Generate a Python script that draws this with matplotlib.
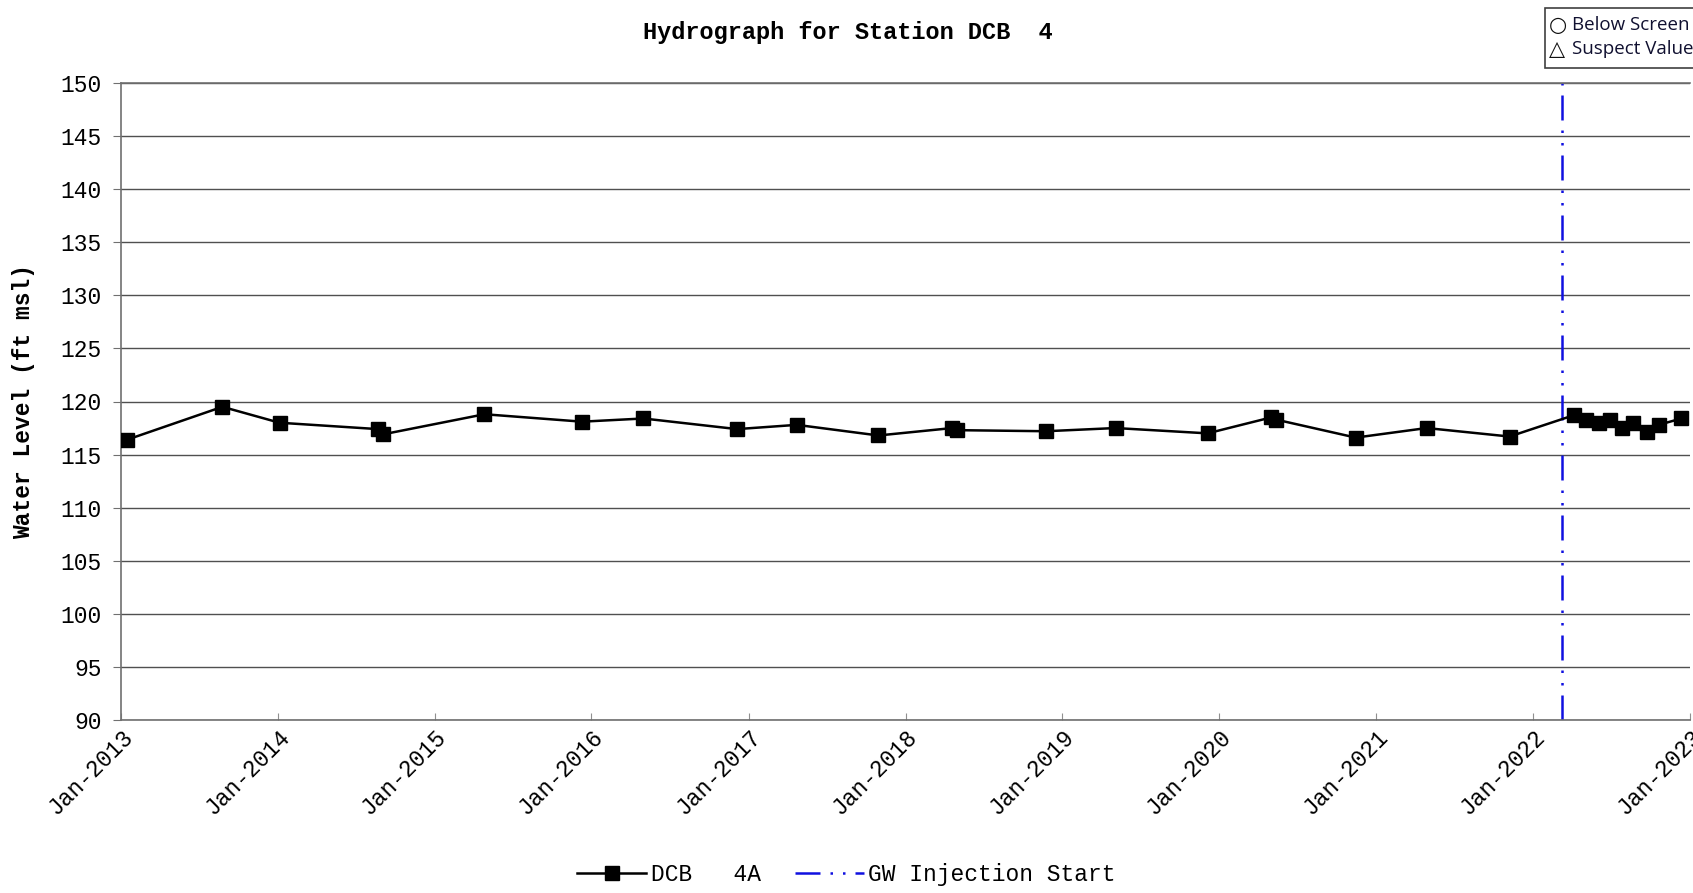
import pandas as pd
import numpy as np
import matplotlib.pyplot as plt
import matplotlib.dates as mdates
from matplotlib.patches import Rectangle

# Water level readings for station DCB 4A
dates = ['2013-01-15', '2013-08-25', '2014-01-05', '2014-08-22', '2014-09-02',
         '2015-04-27', '2015-12-10', '2016-05-01', '2016-12-05', '2017-04-23',
         '2017-10-30', '2018-04-20', '2018-05-01', '2018-11-24', '2019-05-05',
         '2019-12-05', '2020-05-01', '2020-05-12', '2020-11-14', '2021-04-28',
         '2021-11-07', '2022-04-05', '2022-05-05', '2022-06-03', '2022-06-28',
         '2022-07-27', '2022-08-22', '2022-09-24', '2022-10-20', '2022-12-12']
levels = [116.4, 119.5, 118.0, 117.4, 116.9,
          118.8, 118.1, 118.4, 117.4, 117.8,
          116.8, 117.5, 117.3, 117.2, 117.5,
          117.0, 118.5, 118.3, 116.6, 117.5,
          116.7, 118.7, 118.3, 118.0, 118.3,
          117.5, 118.0, 117.1, 117.8, 118.4]
injection_start = '2022-03-08'
y_ticks = list(range(90, 151, 5))

data = pd.DataFrame({'Date': pd.to_datetime(dates), 'Level': levels})

mono = 'Liberation Mono'
fig = plt.figure(figsize=(16.93, 8.93), dpi=100)
ax = fig.add_axes([121 / 1693, 1 - 720 / 893, (1690 - 121) / 1693, (720 - 83) / 893])

ax.plot(data['Date'], data['Level'], color='black', lw=1.8, marker='s',
        markersize=10.5, label='DCB   4A', zorder=3)
ax.axvline(pd.Timestamp(injection_start), color='#1010e0', lw=1.8,
           linestyle=(0, (10, 4, 1, 4, 1, 4)), label='GW Injection Start', zorder=2)

ax.set_ylim(90, 150)
ax.set_yticks(y_ticks)
ax.set_xlim(pd.Timestamp('2013-01-01'), pd.Timestamp('2023-01-01'))
ax.xaxis.set_major_locator(mdates.YearLocator())
ax.xaxis.set_major_formatter(mdates.DateFormatter('%b-%Y'))

ax.yaxis.grid(True, color='#505050', lw=1.0)
ax.spines['right'].set_visible(False)
for s in ['left', 'bottom', 'top']:
    ax.spines[s].set_color('#707070')
    ax.spines[s].set_linewidth(1.2)

ax.tick_params(axis='y', direction='out', length=6, color='#707070', labelsize=16.5, pad=8)
ax.tick_params(axis='x', direction='in', length=5, color='#909090', labelsize=16.5, pad=4)
for lab in ax.get_yticklabels():
    lab.set_fontfamily(mono)
for lab in ax.get_xticklabels():
    lab.set_fontfamily(mono)
    lab.set_rotation(45)
    lab.set_ha('right')
    lab.set_rotation_mode('anchor')

ax.set_ylabel('Water Level (ft msl)', fontfamily=mono, fontweight='bold', fontsize=16.5, labelpad=18)
fig.text(848 / 1693, 1 - 32 / 893, 'Hydrograph for Station DCB  4', fontfamily=mono,
         fontweight='bold', fontsize=17, ha='center', va='center')

# box in the top right corner
fig.add_artist(Rectangle((1545 / 1693, 1 - 68 / 893), 0.2, 60 / 893, transform=fig.transFigure,
                         facecolor='white', edgecolor='#404040', lw=1.2, clip_on=False))
fig.text(1549 / 1693, 1 - 25 / 893, '○', fontfamily=['DejaVu Sans'], fontsize=15,
         va='center', ha='left', color='#101010')
fig.text(1549 / 1693, 1 - 49 / 893, '△', fontfamily=['DejaVu Sans'], fontsize=15,
         va='center', ha='left', color='#101010')
fig.text(1572 / 1693, 1 - 25 / 893, 'Below Screen', fontfamily=['Open Sans'], fontsize=13.5,
         va='center', ha='left', color='#101030')
fig.text(1572 / 1693, 1 - 49 / 893, 'Suspect Value', fontfamily=['Open Sans'], fontsize=13.5,
         va='center', ha='left', color='#101030')

fig.legend(loc='lower center', bbox_to_anchor=(0.5, 0.0), ncol=2, frameon=False,
           prop={'family': mono, 'size': 16.5}, handlelength=3, columnspacing=1.5,
           handletextpad=0.2, borderaxespad=0.1, borderpad=0.2)

plt.savefig('out.png', dpi=100)
